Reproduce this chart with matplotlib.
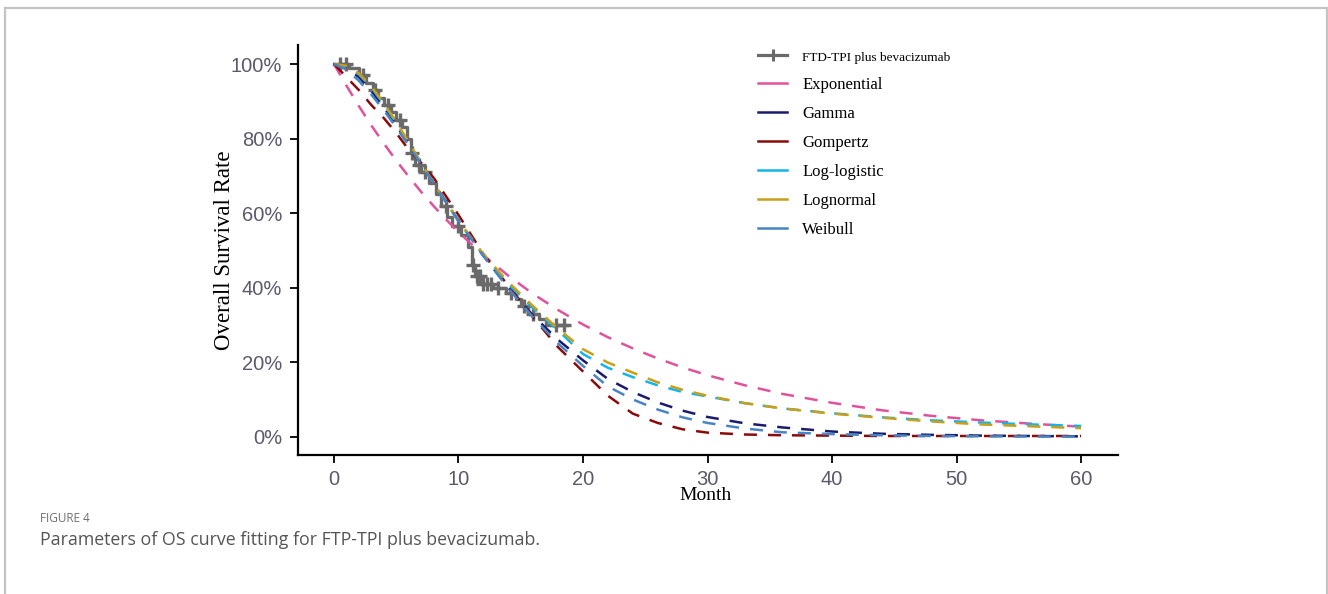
import matplotlib
matplotlib.use("Agg")
import matplotlib.pyplot as plt
from matplotlib.lines import Line2D
from matplotlib.ticker import FuncFormatter

# ---------------- data ----------------
months = [0, 1, 2, 3, 4, 5, 6, 7, 8, 9, 10, 12, 14, 16, 18, 20, 22, 24, 26, 28,
          30, 33, 36, 40, 44, 48, 52, 56, 60]

exponential = [1.0, 0.942, 0.887, 0.835, 0.787, 0.741, 0.698, 0.657, 0.619, 0.583,
               0.549, 0.487, 0.432, 0.383, 0.340, 0.301, 0.267, 0.237, 0.210, 0.186,
               0.165, 0.138, 0.115, 0.091, 0.071, 0.056, 0.044, 0.035, 0.027]
gamma = [1.0, 0.99, 0.965, 0.928, 0.884, 0.836, 0.785, 0.733, 0.681, 0.63,
         0.58, 0.486, 0.40, 0.325, 0.26, 0.205, 0.155, 0.12, 0.092, 0.07,
         0.053, 0.036, 0.025, 0.014, 0.008, 0.005, 0.003, 0.002, 0.001]
gompertz = [1.0, 0.965, 0.93, 0.89, 0.855, 0.815, 0.77, 0.735, 0.695, 0.645,
            0.595, 0.49, 0.405, 0.32, 0.24, 0.175, 0.11, 0.062, 0.037, 0.02,
            0.011, 0.006, 0.004, 0.003, 0.002, 0.002, 0.002, 0.002, 0.002]
loglogistic = [1.0, 0.993, 0.972, 0.937, 0.892, 0.842, 0.788, 0.733, 0.68, 0.628,
               0.578, 0.487, 0.41, 0.345, 0.285, 0.222, 0.185, 0.16, 0.138, 0.12,
               0.108, 0.09, 0.076, 0.063, 0.052, 0.044, 0.038, 0.033, 0.029]
lognormal = [1.0, 0.995, 0.975, 0.94, 0.895, 0.845, 0.79, 0.735, 0.68, 0.63,
             0.58, 0.49, 0.415, 0.35, 0.29, 0.235, 0.199, 0.172, 0.146, 0.126,
             0.11, 0.09, 0.076, 0.062, 0.051, 0.041, 0.033, 0.028, 0.023]
weibull = [1.0, 0.985, 0.955, 0.918, 0.876, 0.83, 0.781, 0.731, 0.68, 0.63,
           0.58, 0.485, 0.398, 0.32, 0.25, 0.19, 0.135, 0.10, 0.073, 0.052,
           0.037, 0.022, 0.012, 0.007, 0.004, 0.002, 0.001, 0.0005, 0.0002]

km_times = [0, 1.2, 2.0, 2.6, 3.1, 3.5, 4.0, 4.6, 5.0, 5.5, 5.9, 6.2, 6.5, 7.0,
            7.6, 8.2, 8.6, 9.1, 9.5, 10.2, 10.8, 11.1, 11.3, 11.8, 12.8, 13.8,
            14.6, 15.0, 15.6, 16.5, 17.0, 18.7]
km_surv = [1.0, 0.99, 0.97, 0.95, 0.93, 0.91, 0.89, 0.87, 0.85, 0.83, 0.80, 0.76,
           0.73, 0.71, 0.68, 0.65, 0.62, 0.59, 0.565, 0.54, 0.51, 0.46, 0.43,
           0.41, 0.40, 0.385, 0.37, 0.35, 0.33, 0.315, 0.30, 0.30]
censor_times = [0.5, 1.0, 2.3, 3.3, 4.3, 5.3, 6.3, 6.8, 7.3, 9.0, 10.0, 11.2,
                11.5, 11.7, 12.0, 12.3, 12.6, 13.2, 14.2, 15.3, 16.0, 17.8, 18.5]

tick_x = [0, 10, 20, 30, 40, 50, 60]
tick_y = [0.0, 0.2, 0.4, 0.6, 0.8, 1.0]

series = [("Exponential", exponential, "#E0529C"),
          ("Gamma", gamma, "#1B1B6E"),
          ("Gompertz", gompertz, "#8B0A0A"),
          ("Log-logistic", loglogistic, "#14B4EC"),
          ("Lognormal", lognormal, "#CA9E16"),
          ("Weibull", weibull, "#4884C4")]
km_label = "FTD-TPI plus bevacizumab"
km_color = "#6A6A6A"

# ---------------- figure ----------------
W, H = 1328, 594
fig = plt.figure(figsize=(W / 100, H / 100), dpi=100)
fig.patch.set_facecolor("white")

# outer frame (top, left, right)
frame_kw = dict(color="#C4C4C4", lw=1.6, transform=fig.transFigure)
fig.add_artist(Line2D([4.5 / W, 4.5 / W], [1 - 7.5 / H, 0], **frame_kw))
fig.add_artist(Line2D([4.5 / W, 1326.5 / W], [1 - 7.5 / H, 1 - 7.5 / H], **frame_kw))
fig.add_artist(Line2D([1326.5 / W, 1326.5 / W], [1 - 7.5 / H, 0], **frame_kw))

ax_l, ax_r, ax_t, ax_b = 298, 1118, 45, 455
ax = fig.add_axes([ax_l / W, 1 - ax_b / H, (ax_r - ax_l) / W, (ax_b - ax_t) / H])

# KM curve
ax.step(km_times, km_surv, where="post", color=km_color, lw=2.4, zorder=2)
cens_y = []
for ct in censor_times:
    s = km_surv[0]
    for t, v in zip(km_times, km_surv):
        if t <= ct:
            s = v
    cens_y.append(s)
ax.plot(censor_times, cens_y, ls="none", marker="+", ms=10, mew=2.4,
        color=km_color, zorder=2)

# fitted curves
for name, vals, col in series:
    ax.plot(months, vals, color=col, lw=1.8, dashes=(5.2, 4.4), zorder=3)

ax.set_xlim(-2.89, 62.97)
ax.set_ylim(-0.049, 1.051)
ax.set_xticks(tick_x)
ax.set_yticks(tick_y)
ax.yaxis.set_major_formatter(FuncFormatter(lambda v, p: f"{v * 100:.0f}%"))

for sp in ["top", "right"]:
    ax.spines[sp].set_visible(False)
for sp in ["left", "bottom"]:
    ax.spines[sp].set_linewidth(1.6)
    ax.spines[sp].set_color("black")
tick_col = "#5A5A6C"
ax.tick_params(axis="both", direction="out", length=6, width=1.3, color="black",
               labelcolor=tick_col, labelsize=14.5)
ax.tick_params(axis="y", pad=5.5)
ax.tick_params(axis="x", pad=4.5)
for lab in ax.get_xticklabels() + ax.get_yticklabels():
    lab.set_family("Liberation Sans")

ax.set_xlabel("Month", family="Liberation Serif", fontsize=14, color="black")
ax.set_ylabel("Overall Survival Rate", family="Liberation Serif", fontsize=16.5,
              color="black")
ax.xaxis.set_label_coords((706 - ax_l) / (ax_r - ax_l), (ax_b - 487) / (ax_b - ax_t))
ax.yaxis.set_label_coords((235 - ax_l) / (ax_r - ax_l), 0.5)

# legend
handles = [Line2D([], [], color=km_color, lw=2.3, marker="+", ms=9, mew=2.2)]
labels = [km_label]
for name, vals, col in series:
    handles.append(Line2D([], [], color=col, lw=1.8))
    labels.append(name)
leg = ax.legend(handles, labels, loc="upper left",
                bbox_to_anchor=(758 / W, 1 - 49 / H), bbox_transform=fig.transFigure,
                frameon=False, borderpad=0, borderaxespad=0,
                handlelength=1.75, handletextpad=0.9, labelspacing=0.78,
                prop={"family": "Liberation Serif", "size": 12})
leg.get_texts()[0].set_fontsize(9.5)

# caption
fig.text(40 / W, 1 - 519 / H, "FIGURE 4", family="Open Sans", fontsize=8.5,
         color="#6E6E6E", va="center", ha="left")
fig.text(40 / W, 1 - 540 / H,
         "Parameters of OS curve fitting for FTP-TPI plus bevacizumab.",
         family="Open Sans", fontsize=12.8, color="#555555", va="center", ha="left")

fig.savefig("out.png", dpi=100, facecolor="white")
